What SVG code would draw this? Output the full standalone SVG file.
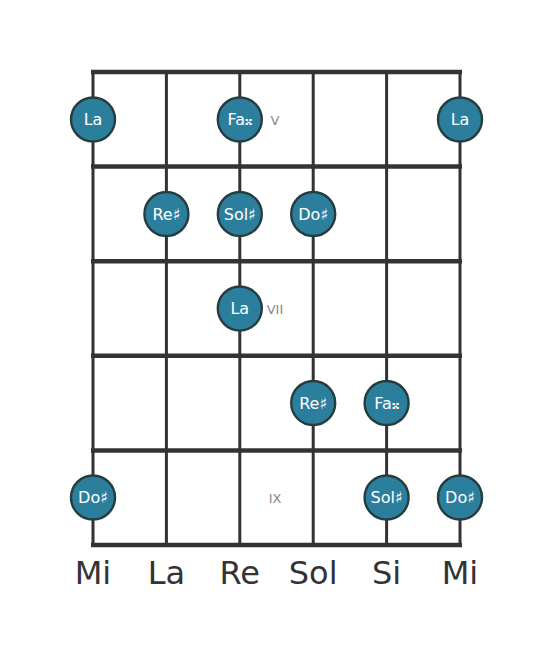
<svg xmlns="http://www.w3.org/2000/svg" width="553" height="656" viewBox="0 0 553 656">
<style>
.s{stroke:#333;stroke-width:3;fill:none}
.f{stroke:#333;stroke-width:4.5;fill:none}
.n circle{fill:#2b7f9d;stroke:#263d40;stroke-width:2.4}
.n text{fill:#fff;font-family:"DejaVu Sans",sans-serif;font-size:16px;text-anchor:middle;dominant-baseline:central}
.pos{fill:#888;font-family:"DejaVu Sans",sans-serif;font-size:13px;text-anchor:middle;dominant-baseline:central}
.str{fill:#333;font-family:"DejaVu Sans",sans-serif;font-size:32px;text-anchor:middle}
</style>
<rect width="553" height="656" fill="#fff"/>
<g id="connectors">
<line class="s" x1="93" y1="72" x2="93" y2="545"/>
<line class="s" x1="166.4" y1="72" x2="166.4" y2="545"/>
<line class="s" x1="239.8" y1="72" x2="239.8" y2="545"/>
<line class="s" x1="313.2" y1="72" x2="313.2" y2="545"/>
<line class="s" x1="386.6" y1="72" x2="386.6" y2="545"/>
<line class="s" x1="460" y1="72" x2="460" y2="545"/>
<line class="f" x1="91" y1="72" x2="462" y2="72"/>
<line class="f" x1="91" y1="166.6" x2="462" y2="166.6"/>
<line class="f" x1="91" y1="261.2" x2="462" y2="261.2"/>
<line class="f" x1="91" y1="355.8" x2="462" y2="355.8"/>
<line class="f" x1="91" y1="450.4" x2="462" y2="450.4"/>
<line class="f" x1="91" y1="545" x2="462" y2="545"/>
</g>
<g id="positions">
<text class="pos" x="275" y="120">V</text>
<text class="pos" x="275" y="309">VII</text>
<text class="pos" x="275" y="498">IX</text>
</g>
<g id="n1" class="n"><circle cx="93" cy="119.5" r="22"/><text x="93" y="119.5">La</text></g>
<g id="n2" class="n"><circle cx="239.8" cy="119.5" r="22"/><text x="239.8" y="119.5">Fa𝄪</text></g>
<g id="n3" class="n"><circle cx="460" cy="119.5" r="22"/><text x="460" y="119.5">La</text></g>
<g id="n4" class="n"><circle cx="166.4" cy="214" r="22"/><text x="166.4" y="214">Re♯</text></g>
<g id="n5" class="n"><circle cx="239.8" cy="214" r="22"/><text x="239.8" y="214">Sol♯</text></g>
<g id="n6" class="n"><circle cx="313.2" cy="214" r="22"/><text x="313.2" y="214">Do♯</text></g>
<g id="n7" class="n"><circle cx="239.8" cy="308.5" r="22"/><text x="239.8" y="308.5">La</text></g>
<g id="n8" class="n"><circle cx="313.2" cy="403" r="22"/><text x="313.2" y="403">Re♯</text></g>
<g id="n9" class="n"><circle cx="386.6" cy="403" r="22"/><text x="386.6" y="403">Fa𝄪</text></g>
<g id="n10" class="n"><circle cx="93" cy="497.5" r="22"/><text x="93" y="497.5">Do♯</text></g>
<g id="n11" class="n"><circle cx="386.6" cy="497.5" r="22"/><text x="386.6" y="497.5">Sol♯</text></g>
<g id="n12" class="n"><circle cx="460" cy="497.5" r="22"/><text x="460" y="497.5">Do♯</text></g>
<g id="strings">
<text class="str" x="93" y="584">Mi</text>
<text class="str" x="166.4" y="584">La</text>
<text class="str" x="239.8" y="584">Re</text>
<text class="str" x="313.2" y="584">Sol</text>
<text class="str" x="386.6" y="584">Si</text>
<text class="str" x="460" y="584">Mi</text>
</g>
</svg>
